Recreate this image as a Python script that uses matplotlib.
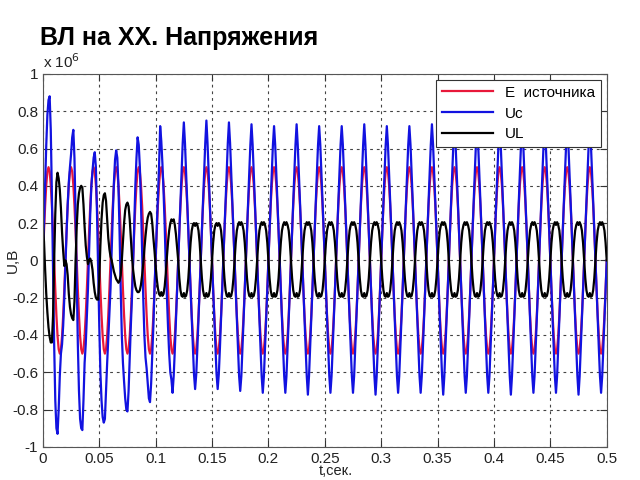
import numpy as np
import matplotlib.pyplot as plt

plt.rcParams['font.family'] = ['Liberation Sans', 'DejaVu Sans']

# samples every 1 ms from 0 to 0.5 s, values in units of 10^6 V
# one row = one 20 ms period (20 samples)
e_rows = [
    [0.0, 0.155, 0.294, 0.405, 0.476, 0.5, 0.476, 0.405, 0.294, 0.155, 0.0, -0.155, -0.294, -0.405, -0.476, -0.5, -0.476, -0.405, -0.294, -0.155],
    [0.0, 0.155, 0.294, 0.405, 0.476, 0.5, 0.476, 0.405, 0.294, 0.155, 0.0, -0.155, -0.294, -0.405, -0.476, -0.5, -0.476, -0.405, -0.294, -0.155],
    [0.0, 0.155, 0.294, 0.405, 0.476, 0.5, 0.476, 0.405, 0.294, 0.155, 0.0, -0.155, -0.294, -0.405, -0.476, -0.5, -0.476, -0.405, -0.294, -0.155],
    [0.0, 0.155, 0.294, 0.405, 0.476, 0.5, 0.476, 0.405, 0.294, 0.155, 0.0, -0.155, -0.294, -0.405, -0.476, -0.5, -0.476, -0.405, -0.294, -0.155],
    [0.0, 0.155, 0.294, 0.405, 0.476, 0.5, 0.476, 0.405, 0.294, 0.155, 0.0, -0.155, -0.294, -0.405, -0.476, -0.5, -0.476, -0.405, -0.294, -0.155],
    [0.0, 0.155, 0.294, 0.405, 0.476, 0.5, 0.476, 0.405, 0.294, 0.155, 0.0, -0.155, -0.294, -0.405, -0.476, -0.5, -0.476, -0.405, -0.294, -0.155],
    [0.0, 0.155, 0.294, 0.405, 0.476, 0.5, 0.476, 0.405, 0.294, 0.155, 0.0, -0.155, -0.294, -0.405, -0.476, -0.5, -0.476, -0.405, -0.294, -0.155],
    [0.0, 0.155, 0.294, 0.405, 0.476, 0.5, 0.476, 0.405, 0.294, 0.155, 0.0, -0.155, -0.294, -0.405, -0.476, -0.5, -0.476, -0.405, -0.294, -0.155],
    [0.0, 0.155, 0.294, 0.405, 0.476, 0.5, 0.476, 0.405, 0.294, 0.155, 0.0, -0.155, -0.294, -0.405, -0.476, -0.5, -0.476, -0.405, -0.294, -0.155],
    [0.0, 0.155, 0.294, 0.405, 0.476, 0.5, 0.476, 0.405, 0.294, 0.155, 0.0, -0.155, -0.294, -0.405, -0.476, -0.5, -0.476, -0.405, -0.294, -0.155],
    [0.0, 0.155, 0.294, 0.405, 0.476, 0.5, 0.476, 0.405, 0.294, 0.155, 0.0, -0.155, -0.294, -0.405, -0.476, -0.5, -0.476, -0.405, -0.294, -0.155],
    [0.0, 0.155, 0.294, 0.405, 0.476, 0.5, 0.476, 0.405, 0.294, 0.155, 0.0, -0.155, -0.294, -0.405, -0.476, -0.5, -0.476, -0.405, -0.294, -0.155],
    [0.0, 0.155, 0.294, 0.405, 0.476, 0.5, 0.476, 0.405, 0.294, 0.155, 0.0, -0.155, -0.294, -0.405, -0.476, -0.5, -0.476, -0.405, -0.294, -0.155],
    [0.0, 0.155, 0.294, 0.405, 0.476, 0.5, 0.476, 0.405, 0.294, 0.155, 0.0, -0.155, -0.294, -0.405, -0.476, -0.5, -0.476, -0.405, -0.294, -0.155],
    [0.0, 0.155, 0.294, 0.405, 0.476, 0.5, 0.476, 0.405, 0.294, 0.155, 0.0, -0.155, -0.294, -0.405, -0.476, -0.5, -0.476, -0.405, -0.294, -0.155],
    [0.0, 0.155, 0.294, 0.405, 0.476, 0.5, 0.476, 0.405, 0.294, 0.155, 0.0, -0.155, -0.294, -0.405, -0.476, -0.5, -0.476, -0.405, -0.294, -0.155],
    [0.0, 0.155, 0.294, 0.405, 0.476, 0.5, 0.476, 0.405, 0.294, 0.155, 0.0, -0.155, -0.294, -0.405, -0.476, -0.5, -0.476, -0.405, -0.294, -0.155],
    [0.0, 0.155, 0.294, 0.405, 0.476, 0.5, 0.476, 0.405, 0.294, 0.155, 0.0, -0.155, -0.294, -0.405, -0.476, -0.5, -0.476, -0.405, -0.294, -0.155],
    [0.0, 0.155, 0.294, 0.405, 0.476, 0.5, 0.476, 0.405, 0.294, 0.155, 0.0, -0.155, -0.294, -0.405, -0.476, -0.5, -0.476, -0.405, -0.294, -0.155],
    [0.0, 0.155, 0.294, 0.405, 0.476, 0.5, 0.476, 0.405, 0.294, 0.155, 0.0, -0.155, -0.294, -0.405, -0.476, -0.5, -0.476, -0.405, -0.294, -0.155],
    [0.0, 0.155, 0.294, 0.405, 0.476, 0.5, 0.476, 0.405, 0.294, 0.155, 0.0, -0.155, -0.294, -0.405, -0.476, -0.5, -0.476, -0.405, -0.294, -0.155],
    [0.0, 0.155, 0.294, 0.405, 0.476, 0.5, 0.476, 0.405, 0.294, 0.155, 0.0, -0.155, -0.294, -0.405, -0.476, -0.5, -0.476, -0.405, -0.294, -0.155],
    [0.0, 0.155, 0.294, 0.405, 0.476, 0.5, 0.476, 0.405, 0.294, 0.155, 0.0, -0.155, -0.294, -0.405, -0.476, -0.5, -0.476, -0.405, -0.294, -0.155],
    [0.0, 0.155, 0.294, 0.405, 0.476, 0.5, 0.476, 0.405, 0.294, 0.155, 0.0, -0.155, -0.294, -0.405, -0.476, -0.5, -0.476, -0.405, -0.294, -0.155],
    [0.0, 0.155, 0.294, 0.405, 0.476, 0.5, 0.476, 0.405, 0.294, 0.155, 0.0, -0.155, -0.294, -0.405, -0.476, -0.5, -0.476, -0.405, -0.294, -0.155],
]

uc_rows = [
    [0.0, 0.2, 0.42, 0.62, 0.78, 0.86, 0.88, 0.70, 0.35, -0.05, -0.45, -0.75, -0.90, -0.93, -0.80, -0.62, -0.50, -0.45, -0.35, -0.20],
    [-0.02, 0.15, 0.30, 0.42, 0.50, 0.57, 0.66, 0.70, 0.55, 0.25, -0.10, -0.45, -0.70, -0.85, -0.90, -0.91, -0.75, -0.55, -0.45, -0.30],
    [-0.15, 0.05, 0.25, 0.40, 0.48, 0.55, 0.58, 0.50, 0.25, -0.05, -0.35, -0.60, -0.75, -0.84, -0.87, -0.85, -0.70, -0.55, -0.42, -0.30],
    [-0.15, 0.05, 0.25, 0.42, 0.54, 0.59, 0.55, 0.40, 0.15, -0.15, -0.40, -0.55, -0.65, -0.74, -0.80, -0.81, -0.70, -0.52, -0.35, -0.20],
    [-0.02, 0.20, 0.40, 0.55, 0.66, 0.62, 0.50, 0.30, 0.05, -0.20, -0.40, -0.52, -0.58, -0.66, -0.74, -0.76, -0.66, -0.50, -0.35, -0.15],
    [0.02, 0.18, 0.34, 0.50, 0.72, 0.64, 0.52, 0.37, 0.19, -0.03, -0.20, -0.36, -0.50, -0.60, -0.64, -0.71, -0.62, -0.48, -0.32, -0.16],
    [0.0, 0.16, 0.31, 0.47, 0.63, 0.74, 0.63, 0.47, 0.31, 0.16, 0.0, -0.16, -0.31, -0.47, -0.61, -0.69, -0.61, -0.47, -0.31, -0.16],
    [0.0, 0.16, 0.31, 0.47, 0.63, 0.75, 0.63, 0.47, 0.31, 0.16, 0.0, -0.16, -0.31, -0.47, -0.61, -0.69, -0.61, -0.47, -0.31, -0.16],
    [0.0, 0.16, 0.31, 0.47, 0.63, 0.74, 0.63, 0.47, 0.31, 0.16, 0.0, -0.16, -0.31, -0.47, -0.62, -0.70, -0.62, -0.47, -0.31, -0.16],
    [0.0, 0.16, 0.31, 0.47, 0.62, 0.73, 0.62, 0.47, 0.31, 0.16, 0.0, -0.16, -0.31, -0.47, -0.62, -0.71, -0.62, -0.47, -0.31, -0.16],
    [0.0, 0.16, 0.31, 0.47, 0.62, 0.72, 0.62, 0.47, 0.31, 0.16, 0.0, -0.16, -0.31, -0.47, -0.62, -0.71, -0.62, -0.47, -0.31, -0.16],
    [0.0, 0.16, 0.31, 0.47, 0.62, 0.73, 0.62, 0.47, 0.31, 0.16, 0.0, -0.16, -0.31, -0.47, -0.62, -0.72, -0.62, -0.47, -0.31, -0.16],
    [0.0, 0.16, 0.31, 0.47, 0.62, 0.72, 0.62, 0.47, 0.31, 0.16, 0.0, -0.16, -0.31, -0.47, -0.62, -0.71, -0.62, -0.47, -0.31, -0.16],
    [0.0, 0.16, 0.31, 0.47, 0.62, 0.72, 0.62, 0.47, 0.31, 0.16, 0.0, -0.16, -0.31, -0.47, -0.62, -0.71, -0.62, -0.47, -0.31, -0.16],
    [0.0, 0.16, 0.31, 0.47, 0.62, 0.73, 0.62, 0.47, 0.31, 0.16, 0.0, -0.16, -0.31, -0.47, -0.62, -0.72, -0.62, -0.47, -0.31, -0.16],
    [0.0, 0.16, 0.31, 0.47, 0.62, 0.72, 0.62, 0.47, 0.31, 0.16, 0.0, -0.16, -0.31, -0.47, -0.62, -0.71, -0.62, -0.47, -0.31, -0.16],
    [0.0, 0.16, 0.31, 0.47, 0.62, 0.72, 0.62, 0.47, 0.31, 0.16, 0.0, -0.16, -0.31, -0.47, -0.62, -0.71, -0.62, -0.47, -0.31, -0.16],
    [0.0, 0.16, 0.31, 0.47, 0.62, 0.73, 0.62, 0.47, 0.31, 0.16, 0.0, -0.16, -0.31, -0.47, -0.62, -0.72, -0.62, -0.47, -0.31, -0.16],
    [0.0, 0.16, 0.31, 0.47, 0.62, 0.72, 0.62, 0.47, 0.31, 0.16, 0.0, -0.16, -0.31, -0.47, -0.62, -0.71, -0.62, -0.47, -0.31, -0.16],
    [0.0, 0.16, 0.31, 0.47, 0.62, 0.72, 0.62, 0.47, 0.31, 0.16, 0.0, -0.16, -0.31, -0.47, -0.62, -0.71, -0.62, -0.47, -0.31, -0.16],
    [0.0, 0.16, 0.31, 0.47, 0.62, 0.73, 0.62, 0.47, 0.31, 0.16, 0.0, -0.16, -0.31, -0.47, -0.62, -0.72, -0.62, -0.47, -0.31, -0.16],
    [0.0, 0.16, 0.31, 0.47, 0.62, 0.72, 0.62, 0.47, 0.31, 0.16, 0.0, -0.16, -0.31, -0.47, -0.62, -0.71, -0.62, -0.47, -0.31, -0.16],
    [0.0, 0.16, 0.31, 0.47, 0.62, 0.72, 0.62, 0.47, 0.31, 0.16, 0.0, -0.16, -0.31, -0.47, -0.62, -0.71, -0.62, -0.47, -0.31, -0.16],
    [0.0, 0.16, 0.31, 0.47, 0.62, 0.73, 0.62, 0.47, 0.31, 0.16, 0.0, -0.16, -0.31, -0.47, -0.62, -0.72, -0.62, -0.47, -0.31, -0.16],
    [0.0, 0.16, 0.31, 0.47, 0.62, 0.72, 0.62, 0.47, 0.31, 0.16, 0.0, -0.16, -0.31, -0.47, -0.62, -0.71, -0.62, -0.47, -0.31, -0.16],
]

ul_rows = [
    [0.20, 0.10, -0.05, -0.18, -0.28, -0.36, -0.41, -0.44, -0.44, -0.30, 0.0, 0.25, 0.42, 0.47, 0.44, 0.38, 0.28, 0.15, 0.05, -0.03],
    [0.0, -0.02, -0.08, -0.18, -0.25, -0.29, -0.31, -0.32, -0.22, 0.0, 0.18, 0.30, 0.36, 0.39, 0.40, 0.39, 0.30, 0.18, 0.08, 0.02],
    [-0.02, 0.0, 0.01, -0.01, -0.05, -0.12, -0.17, -0.20, -0.21, -0.21, -0.10, 0.08, 0.22, 0.31, 0.35, 0.36, 0.32, 0.22, 0.12, 0.06],
    [0.02, 0.0, -0.03, -0.06, -0.08, -0.10, -0.11, -0.12, -0.11, -0.08, 0.0, 0.10, 0.20, 0.27, 0.30, 0.31, 0.29, 0.22, 0.12, 0.02],
    [-0.05, -0.10, -0.14, -0.16, -0.17, -0.17, -0.16, -0.13, -0.08, -0.02, 0.06, 0.13, 0.19, 0.23, 0.25, 0.26, 0.25, 0.20, 0.12, 0.05],
    [-0.03, -0.10, -0.15, -0.18, -0.19, -0.17, -0.19, -0.18, -0.14, -0.07, 0.02, 0.10, 0.16, 0.20, 0.22, 0.21, 0.22, 0.19, 0.14, 0.07],
    [0.0, -0.095, -0.16, -0.19, -0.195, -0.175, -0.195, -0.19, -0.16, -0.095, 0.0, 0.095, 0.16, 0.19, 0.2, 0.185, 0.2, 0.19, 0.16, 0.095],
    [0.0, -0.095, -0.16, -0.19, -0.195, -0.175, -0.195, -0.19, -0.16, -0.095, 0.0, 0.095, 0.16, 0.19, 0.2, 0.185, 0.2, 0.19, 0.16, 0.095],
    [0.0, -0.095, -0.16, -0.19, -0.195, -0.175, -0.195, -0.19, -0.16, -0.095, 0.0, 0.095, 0.16, 0.19, 0.205, 0.19, 0.205, 0.19, 0.16, 0.095],
    [0.0, -0.095, -0.16, -0.19, -0.195, -0.175, -0.195, -0.19, -0.16, -0.095, 0.0, 0.095, 0.16, 0.19, 0.205, 0.19, 0.205, 0.19, 0.16, 0.095],
    [0.0, -0.095, -0.16, -0.19, -0.195, -0.175, -0.195, -0.19, -0.16, -0.095, 0.0, 0.095, 0.16, 0.19, 0.205, 0.19, 0.205, 0.19, 0.16, 0.095],
    [0.0, -0.095, -0.16, -0.19, -0.195, -0.175, -0.195, -0.19, -0.16, -0.095, 0.0, 0.095, 0.16, 0.19, 0.205, 0.19, 0.205, 0.19, 0.16, 0.095],
    [0.0, -0.095, -0.16, -0.19, -0.195, -0.175, -0.195, -0.19, -0.16, -0.095, 0.0, 0.095, 0.16, 0.19, 0.205, 0.19, 0.205, 0.19, 0.16, 0.095],
    [0.0, -0.095, -0.16, -0.19, -0.195, -0.175, -0.195, -0.19, -0.16, -0.095, 0.0, 0.095, 0.16, 0.19, 0.205, 0.19, 0.205, 0.19, 0.16, 0.095],
    [0.0, -0.095, -0.16, -0.19, -0.195, -0.175, -0.195, -0.19, -0.16, -0.095, 0.0, 0.095, 0.16, 0.19, 0.205, 0.19, 0.205, 0.19, 0.16, 0.095],
    [0.0, -0.095, -0.16, -0.19, -0.195, -0.175, -0.195, -0.19, -0.16, -0.095, 0.0, 0.095, 0.16, 0.19, 0.205, 0.19, 0.205, 0.19, 0.16, 0.095],
    [0.0, -0.095, -0.16, -0.19, -0.195, -0.175, -0.195, -0.19, -0.16, -0.095, 0.0, 0.095, 0.16, 0.19, 0.205, 0.19, 0.205, 0.19, 0.16, 0.095],
    [0.0, -0.095, -0.16, -0.19, -0.195, -0.175, -0.195, -0.19, -0.16, -0.095, 0.0, 0.095, 0.16, 0.19, 0.205, 0.19, 0.205, 0.19, 0.16, 0.095],
    [0.0, -0.095, -0.16, -0.19, -0.195, -0.175, -0.195, -0.19, -0.16, -0.095, 0.0, 0.095, 0.16, 0.19, 0.205, 0.19, 0.205, 0.19, 0.16, 0.095],
    [0.0, -0.095, -0.16, -0.19, -0.195, -0.175, -0.195, -0.19, -0.16, -0.095, 0.0, 0.095, 0.16, 0.19, 0.205, 0.19, 0.205, 0.19, 0.16, 0.095],
    [0.0, -0.095, -0.16, -0.19, -0.195, -0.175, -0.195, -0.19, -0.16, -0.095, 0.0, 0.095, 0.16, 0.19, 0.205, 0.19, 0.205, 0.19, 0.16, 0.095],
    [0.0, -0.095, -0.16, -0.19, -0.195, -0.175, -0.195, -0.19, -0.16, -0.095, 0.0, 0.095, 0.16, 0.19, 0.205, 0.19, 0.205, 0.19, 0.16, 0.095],
    [0.0, -0.095, -0.16, -0.19, -0.195, -0.175, -0.195, -0.19, -0.16, -0.095, 0.0, 0.095, 0.16, 0.19, 0.205, 0.19, 0.205, 0.19, 0.16, 0.095],
    [0.0, -0.095, -0.16, -0.19, -0.195, -0.175, -0.195, -0.19, -0.16, -0.095, 0.0, 0.095, 0.16, 0.19, 0.205, 0.19, 0.205, 0.19, 0.16, 0.095],
    [0.0, -0.095, -0.16, -0.19, -0.195, -0.175, -0.195, -0.19, -0.16, -0.095, 0.0, 0.095, 0.16, 0.19, 0.205, 0.19, 0.205, 0.19, 0.16, 0.095],
]

# last sample at t = 0.5 s
e_end, uc_end, ul_end = 0.0, 0.0, 0.0

x_ticks = [0, 0.05, 0.1, 0.15, 0.2, 0.25, 0.3, 0.35, 0.4, 0.45, 0.5]
x_labels = ['0', '0.05', '0.1', '0.15', '0.2', '0.25', '0.3', '0.35', '0.4', '0.45', '0.5']
y_ticks = [-1, -0.8, -0.6, -0.4, -0.2, 0, 0.2, 0.4, 0.6, 0.8, 1]
y_labels = ['-1', '-0.8', '-0.6', '-0.4', '-0.2', '0', '0.2', '0.4', '0.6', '0.8', '1']

e = np.append(np.concatenate(e_rows), e_end)
uc = np.append(np.concatenate(uc_rows), uc_end)
ul = np.append(np.concatenate(ul_rows), ul_end)
t = np.arange(len(e)) / 1000.0

fig = plt.figure(figsize=(6.4, 4.8), dpi=100)
ax = fig.add_axes([0.067, 0.069, 0.881, 0.777])

ax.plot(t, e, color='#e8183a', lw=1.6, label='E  источника')
ax.plot(t, uc, color='#1212e0', lw=1.6, label='Uc')
ax.plot(t, ul, color='black', lw=1.6, label='UL')

ax.set_xlim(0, 0.5)
ax.set_ylim(-1, 1)
ax.set_xticks(x_ticks)
ax.set_xticklabels(x_labels)
ax.set_yticks(y_ticks)
ax.set_yticklabels(y_labels)
ax.tick_params(direction='in', top=True, right=True, length=5, labelsize=11,
               colors='#333333', labelcolor='#222222')
ax.grid(True, color='#444444', linestyle=(0, (2.5, 3.5)), lw=0.8)
for s in ax.spines.values():
    s.set_color('#555555')

ax.set_xlabel('t,сек.', fontsize=10.5, color='#222222')
ax.xaxis.set_label_coords(0.52, -0.047)
ax.set_ylabel('U,B', fontsize=11, color='#222222')
ax.yaxis.set_label_coords(-0.04, 0.5)

leg = ax.legend(loc='upper right', bbox_to_anchor=(0.99, 0.985), borderaxespad=0,
                fontsize=11, handlelength=3.3, fancybox=False, framealpha=1,
                edgecolor='#333333', labelspacing=0.45)
leg.get_frame().set_linewidth(0.8)

fig.text(0.067, 0.858, r'x 10$^6$', fontsize=11, color='#222222')
fig.text(0.0625, 0.906, 'ВЛ на ХХ. Напряжения', fontsize=18, fontweight='bold')

fig.savefig('out.png', dpi=100)
